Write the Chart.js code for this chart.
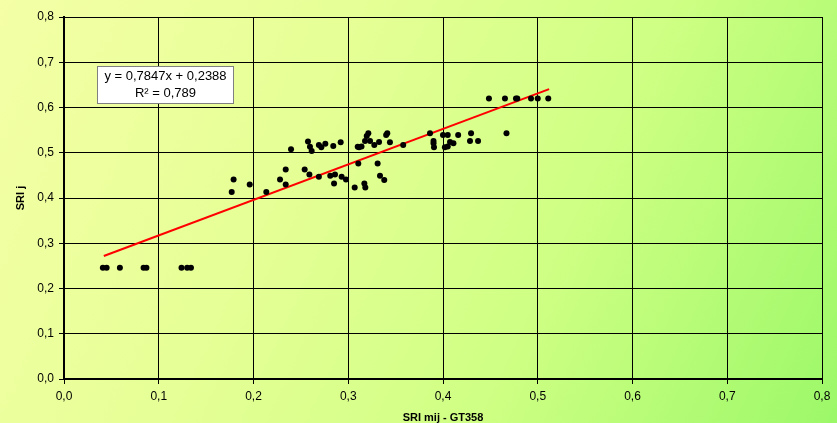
<!DOCTYPE html>
<html>
<head>
<meta charset="utf-8">
<script src="https://cdn.jsdelivr.net/npm/chart.js@4"></script>
<style>
  html, body { margin: 0; padding: 0; }
  body {
    width: 837px; height: 423px; overflow: hidden;
    background: linear-gradient(115deg, #f4ffa6 0%, #e6ff96 35%, #cfff84 65%, #9cf868 100%);
  }
  #wrap { position: relative; width: 837px; height: 423px; }
</style>
</head>
<body>
<div id="wrap"><canvas id="c" width="837" height="423"></canvas></div>
<script>
// ---- data ----
const xValues = [
  0.041, 0.045, 0.059, 0.084, 0.087, 0.124, 0.130, 0.134,
  0.177, 0.179, 0.196, 0.2135,
  0.228, 0.234, 0.234, 0.2396,
  0.254, 0.2575, 0.2596, 0.259, 0.2614,
  0.269, 0.269, 0.2716, 0.2758, 0.281, 0.285, 0.286, 0.2842, 0.292, 0.293, 0.2976,
  0.3068, 0.310, 0.3106, 0.3114, 0.314, 0.317, 0.318, 0.3177, 0.3195, 0.3212, 0.323, 0.3275,
  0.331, 0.3325, 0.3335, 0.338, 0.340, 0.3412, 0.344, 0.358,
  0.3863, 0.390, 0.390, 0.3905, 0.400, 0.402, 0.405, 0.405, 0.4074, 0.411, 0.416,
  0.4285, 0.4296, 0.437, 0.467,
  0.4485, 0.4654, 0.477, 0.4784, 0.4929, 0.500, 0.5111
];
const yValues = [
  0.246, 0.246, 0.246, 0.246, 0.246, 0.246, 0.246, 0.246,
  0.413, 0.441, 0.430, 0.413,
  0.441, 0.463, 0.430, 0.508,
  0.463, 0.525, 0.513, 0.452, 0.504,
  0.517, 0.447, 0.512, 0.520, 0.449, 0.432, 0.452, 0.515, 0.523, 0.447, 0.441,
  0.423, 0.513, 0.476, 0.512, 0.514, 0.432, 0.423, 0.526, 0.537, 0.543, 0.526, 0.517,
  0.476, 0.524, 0.449, 0.440, 0.539, 0.543, 0.523, 0.517,
  0.543, 0.526, 0.521, 0.512, 0.539, 0.512, 0.514, 0.539, 0.524, 0.521, 0.539,
  0.526, 0.543, 0.526, 0.543,
  0.620, 0.620, 0.620, 0.620, 0.620, 0.620, 0.620
];
// trend line endpoints (as drawn in the reference)
const trendX = [0.042, 0.512];
const trendY = [0.2718, 0.6406];
const equationLines = ["y = 0,7847x + 0,2388", "R² = 0,789"];
const xTitle = "SRI mij - GT358";
const yTitle = "SRI j";
const axisMin = 0, axisMax = 0.8, axisStep = 0.1;

const points = xValues.map((x, i) => ({ x: x, y: yValues[i] }));
const trend = trendX.map((x, i) => ({ x: x, y: trendY[i] }));
const fmt = v => v.toFixed(1).replace('.', ',');

const eqBox = {
  id: 'eqBox',
  afterDatasetsDraw(chart) {
    const ctx = chart.ctx;
    const left = 97.5, top = 66.5, w = 136, h = 37;
    ctx.save();
    ctx.fillStyle = '#ffffff';
    ctx.fillRect(left, top, w, h);
    ctx.strokeStyle = '#808080';
    ctx.lineWidth = 1;
    ctx.strokeRect(left, top, w, h);
    ctx.fillStyle = '#000';
    ctx.font = '13px "Liberation Sans", Arial, sans-serif';
    ctx.textAlign = 'center';
    ctx.textBaseline = 'middle';
    ctx.fillText(equationLines[0], left + w / 2, top + 10);
    ctx.fillText(equationLines[1], left + w / 2, top + 27);
    ctx.restore();
  }
};

const font = { family: '"Liberation Sans", Arial, sans-serif', size: 12 };

new Chart(document.getElementById('c'), {
  type: 'scatter',
  data: {
    datasets: [
      {
        label: 'data',
        data: points,
        backgroundColor: '#000',
        borderWidth: 0,
        pointRadius: 3,
        pointHoverRadius: 3
      },
      {
        label: 'trend',
        type: 'line',
        data: trend,
        borderColor: '#ff0000',
        borderWidth: 2,
        pointRadius: 0,
        fill: false,
        showLine: true
      }
    ]
  },
  options: {
    responsive: false,
    animation: false,
    events: [],
    layout: { padding: { top: 17, right: 15, left: 0, bottom: 0 } },
    plugins: { legend: { display: false }, tooltip: { enabled: false } },
    scales: {
      x: {
        type: 'linear',
        min: axisMin, max: axisMax,
        afterFit(s) { s.height = 44; },
        ticks: { stepSize: axisStep, callback: fmt, color: '#000', font: font, padding: 5, maxRotation: 0 },
        grid: { color: '#000', lineWidth: 1, tickLength: 5, drawTicks: true },
        border: { display: true, color: '#000', width: 2 },
        title: { display: true, text: xTitle, color: '#000',
                 font: { family: font.family, size: 11, weight: 'bold', lineHeight: 1 },
                 padding: { top: 0, bottom: 0 } }
      },
      y: {
        type: 'linear',
        min: axisMin, max: axisMax,
        afterFit(s) { s.width = 64; },
        ticks: { stepSize: axisStep, callback: fmt, color: '#000', font: font, padding: 5 },
        grid: { color: '#000', lineWidth: 1, tickLength: 5, drawTicks: true },
        border: { display: true, color: '#000', width: 2 },
        title: { display: true, text: yTitle, color: '#000',
                 font: { family: font.family, size: 11, weight: 'bold' },
                 padding: { top: 14, bottom: 0 } }
      }
    }
  },
  plugins: [eqBox]
});
</script>
</body>
</html>
